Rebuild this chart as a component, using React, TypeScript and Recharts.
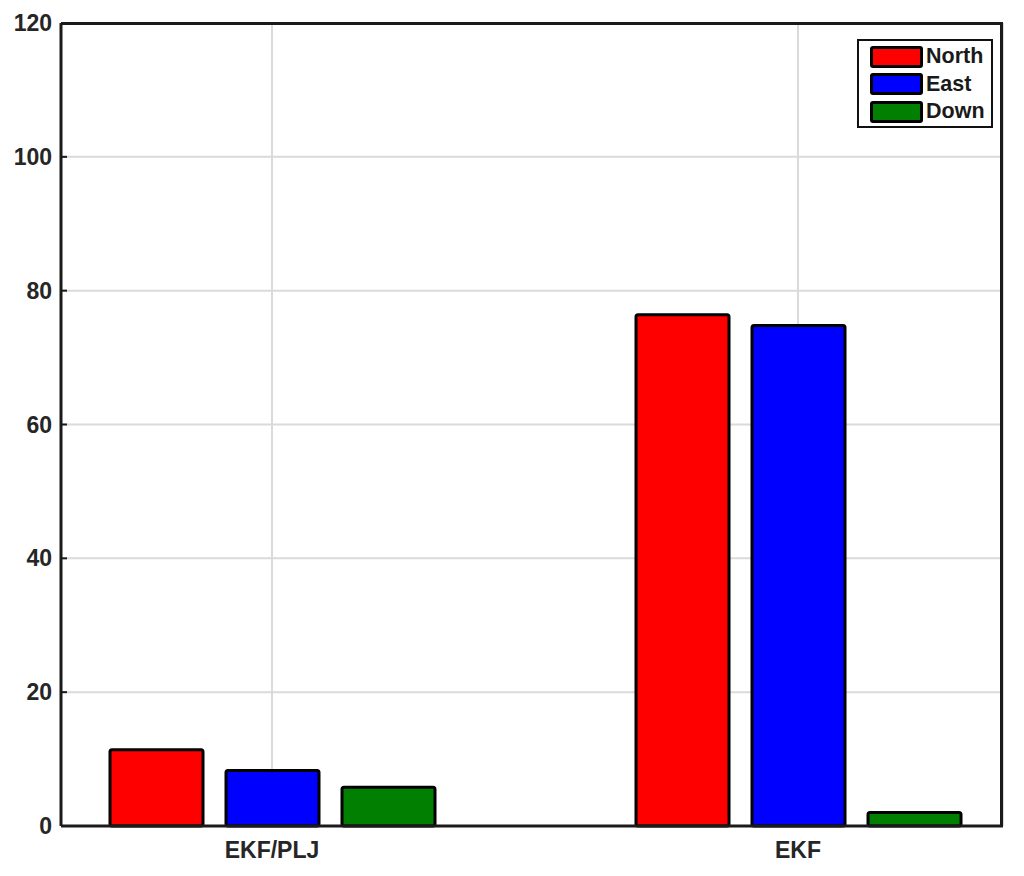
import { BarChart, Bar, XAxis, YAxis, CartesianGrid } from 'recharts';

const categories = ['EKF/PLJ', 'EKF'];
const north = [11.4, 76.4];
const east = [8.3, 74.8];
const down = [5.8, 2.0];
const yTicks = [0, 20, 40, 60, 80, 100, 120];

const data = categories.map((name, i) => ({ name, North: north[i], East: east[i], Down: down[i] }));

const series = [
  { key: 'North', color: '#ff0000' },
  { key: 'East', color: '#0000ff' },
  { key: 'Down', color: '#007f00' },
];

const FONT = '"Liberation Sans", Arial, Helvetica, sans-serif';

function LegendBox() {
  return (
    <div style={{ position: 'absolute', left: 857, top: 39, width: 136, height: 89, boxSizing: 'border-box', border: '2px solid #111', background: '#fff', padding: '2px 0 0 11px', fontFamily: FONT, fontWeight: 700, fontSize: 21.5, color: '#1a1a1a' }}>
      {series.map(s => (
        <div key={s.key} style={{ display: 'flex', alignItems: 'center', height: 27.5 }}>
          <div style={{ width: 47, height: 16, background: s.color, border: '3px solid #000', borderRadius: 3, marginRight: 3 }} />
          <span>{s.key}</span>
        </div>
      ))}
    </div>
  );
}

export default function App() {
  return (
    <div style={{ position: 'absolute', left: 0, top: 0, width: 1024, height: 876, background: '#fff' }}>
      <BarChart width={1024} height={876} data={data} margin={{ top: 23, right: 21, bottom: 0, left: 0 }} barSize={93} barGap={23}>
        <CartesianGrid stroke="#dadada" strokeWidth={2} />
        <XAxis
          dataKey="name"
          height={50}
          padding={{ left: -52, right: -58 }}
          axisLine={{ stroke: '#1a1a1a', strokeWidth: 3 }}
          tickLine={false}
          tickMargin={10}
          tick={{ fill: '#262626', fontSize: 23, fontWeight: 700, fontFamily: FONT }}
        />
        <YAxis
          domain={[0, 120]}
          ticks={yTicks}
          width={61}
          interval={0}
          axisLine={{ stroke: '#1a1a1a', strokeWidth: 3 }}
          tickLine={{ stroke: '#1a1a1a', strokeWidth: 2 }}
          tickSize={-6}
          tickMargin={15}
          tick={{ fill: '#262626', fontSize: 23, fontWeight: 700, fontFamily: FONT }}
        />
        {series.map(s => (
          <Bar key={s.key} dataKey={s.key} fill={s.color} stroke="#000" strokeWidth={3} radius={2} isAnimationActive={false} />
        ))}
      </BarChart>
      <div style={{ position: 'absolute', left: 61, top: 22, width: 942, height: 804, boxSizing: 'border-box', borderTop: '3px solid #1a1a1a', borderRight: '3px solid #1a1a1a', pointerEvents: 'none' }} />
      <LegendBox />
    </div>
  );
}
